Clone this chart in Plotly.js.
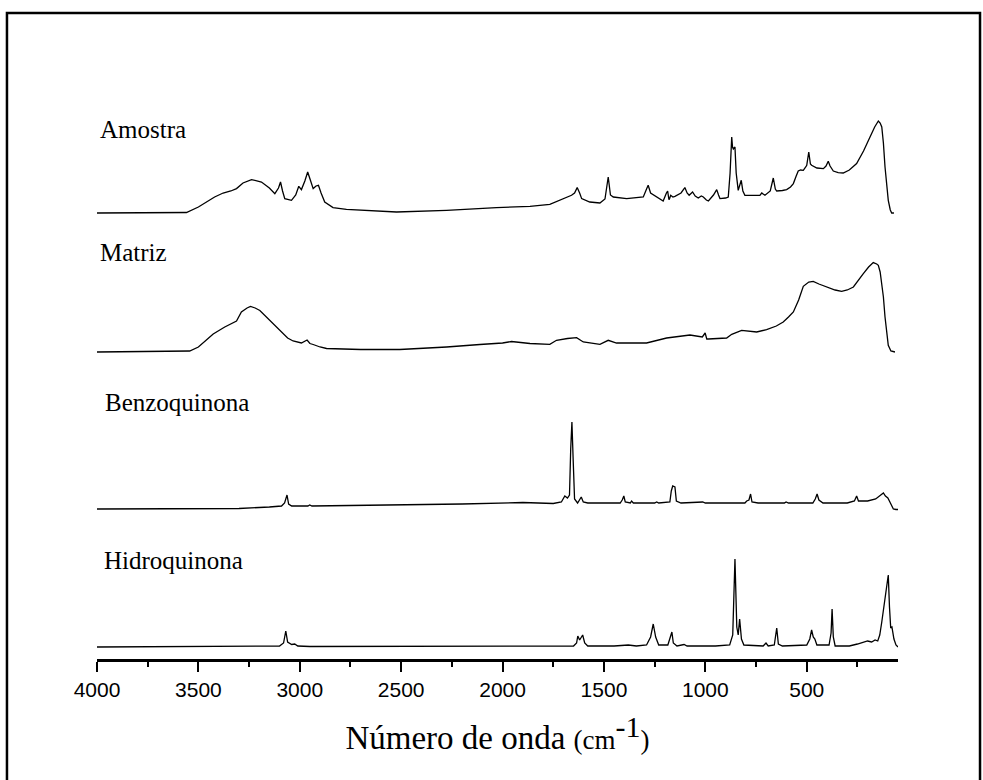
<!DOCTYPE html>
<html>
<head>
<meta charset="utf-8">
<script src="https://cdn.plot.ly/plotly-3.0.1.min.js"></script>
<style>html,body{margin:0;padding:0;background:#fff;}#chart{width:983px;height:780px;}</style>
</head>
<body>
<div id="chart"></div>
<script>
// Series names (labels drawn above each spectrum)
const seriesNames = ["Amostra", "Matriz", "Benzoquinona", "Hidroquinona"];

// Vertical offsets of each spectrum (stacked display, arbitrary units)
const offsets = [446, 307, 150, 12];

// Amostra: wavenumber (cm-1) and relative intensity
const amostraWn = [4000,3700,3559,3500,3460,3420,3378,3340,3312,3280,3238,3200,3189,3150,3123,3105,3095,3085,3074,3041,3020,3005,2992,2975,2961,2948,2934,2920,2908,2895,2877,2836,2770,2523,2276,2030,1865,1767,1701,1660,1645,1632,1620,1610,1570,1520,1495,1479,1468,1454,1388,1306,1290,1282,1270,1240,1208,1192,1186,1180,1178,1171,1160,1150,1120,1101,1090,1080,1063,1050,1035,1020,1010,995,985,960,944,935,928,900,887,878,870,866,862,854,848,838,831,823,815,805,760,731,722,706,680,665,655,648,620,599,580,566,552,542,530,517,505,500,490,482,476,450,418,405,394,385,369,345,320,290,254,220,188,165,147,138,130,122,114,106,98,88,81,70];
const amostraInt = [0,0.3,0.5,6,11,16,20,22,24.4,30,33.4,32,31,25,19.4,25,31,22,14.4,12.7,18,26.7,23.4,32,41,33,24.4,27,27.7,20,11,5.4,3.7,1,2.7,5.4,6.7,8.7,14.4,17.7,20,25.4,20,14.4,11,10,14,36,18,16,14.4,16,24,27.7,20,16,12,20,22,14,13.4,17.7,16,16.7,20,25.4,20,17.7,21,17,15,17,16,13,12,18,23.4,18,14.4,15,16,40,76,66,64,66,40,22.7,28,32.7,22,17.7,17.7,17.7,20,17.7,22,35,24,22,22.5,23.4,26,29.4,37,42,43,42.7,46,47.7,61,49,47.7,45,44.4,47,51.7,47,42,40.4,40,43,49.4,62,76,86,92,90,86,70,46,28,12.7,3,0,0];

// Matriz
const matrizWn = [4000,3800,3600,3543,3500,3427,3370,3312,3288,3260,3243,3220,3197,3150,3099,3060,3033,2992,2964,2950,2934,2900,2868,2700,2507,2400,2276,2112,2000,1956,1900,1865,1767,1734,1680,1635,1602,1520,1479,1438,1290,1191,1076,1043,1015,1001,993,985,895,870,821,747,698,650,616,590,566,540,517,490,468,440,402,360,328,300,270,240,221,195,172,155,147,138,130,122,114,106,98,85,73,65];
const matrizInt = [0,0.3,0.5,1,5,18,25,31,40,44,45.5,44,41.5,32,21,14,11,9,12,8.5,7.5,5,3.5,2.5,2.5,3.5,5,7.5,9,10.5,9.5,8.5,7.7,11.7,13.5,14.4,10,7.7,11.7,9,9,14,17,15.7,15,19,13,13,14,17.7,21.7,20,22.4,26,30,35,40,52,65.7,70,70.7,68,65,62,60.7,62,65,74,78.4,85,89.4,88,86.7,80,68.4,55,35,18,6.7,1,0,0];

// Benzoquinona
const benzoWn = [4000,3500,3300,3150,3090,3075,3063,3055,3040,2960,2951,2940,2500,2200,1900,1750,1710,1693,1680,1670,1664,1658,1652,1645,1630,1612,1602,1580,1420,1410,1402,1395,1370,1364,1355,1250,1240,1230,1175,1168,1161,1150,1143,1120,1013,1000,805,796,785,777,770,740,610,602,590,470,458,449,440,420,300,265,254,245,200,160,135,122,112,100,90,80,73,60,50];
const benzoInt = [0,0,0.5,2,3,6,14,5,3,3,4,3,4,5,6.5,5.5,7,13,11,14,60,87,50,10,6,12,7,6,6,9,13,7,6,8,6,6,7,6,7,18,23,22,8,6,7,6,6,8,9,15,7,6,6,7,6,6,10,15,9,6,6,8,13,8,8,10,14,16,13,11,7,2,0,-0.5,-0.5];

// Hidroquinona
const hidroWn = [4000,3200,3100,3080,3069,3060,3040,3025,3010,2950,2000,1700,1650,1635,1629,1620,1605,1595,1580,1450,1380,1340,1290,1270,1257,1245,1230,1185,1175,1165,1158,1140,1105,1090,950,880,865,854,845,838,831,822,810,715,701,690,660,648,640,620,500,485,476,468,460,450,390,380,375,369,360,290,250,230,200,180,163,150,140,130,120,114,105,98,92,86,80,70,60,50];
const hidroInt = [0,0.5,1,4,16,5,2.5,3,1,0.5,0.5,0.5,1,4,11,7,12,4,1,1,2,1,2,10,23,10,2,2,8,15,4,1,2.5,1,1,2,12,88,20,12,28,8,2,1,4,1,2,19,3,1,2,8,17,10,8,2,2,14,38,10,1,1,3,4,6,5,7,6,12,25,40,49,62,72,40,19,20,8,2,0];

// X axis tick values / labels
const tickValues = [4000,3500,3000,2500,2000,1500,1000,500];
const tickLabels = ["4000","3500","3000","2500","2000","1500","1000","500"];

const wnSets = [amostraWn, matrizWn, benzoWn, hidroWn];
const intSets = [amostraInt, matrizInt, benzoInt, hidroInt];

const traces = wnSets.map((wn, i) => ({
  x: wn,
  y: intSets[i].map(v => v + offsets[i]),
  type: "scatter",
  mode: "lines",
  name: seriesNames[i],
  line: {color: "#000", width: 1.3},
  hoverinfo: "skip"
}));

const labelPos = [
  {xs: 1, y: 530},
  {xs: 1, y: 407},
  {xs: 6, y: 257},
  {xs: 5, y: 99}
];

const annotations = seriesNames.map((n, i) => ({
  text: n,
  xref: "x", yref: "y",
  x: 4000, y: labelPos[i].y,
  xanchor: "left", yanchor: "middle",
  xshift: labelPos[i].xs,
  showarrow: false,
  font: {family: "Liberation Serif, Times New Roman, serif", size: 25, color: "#000"}
}));

const layout = {
  width: 983, height: 780,
  margin: {l: 97, r: 85, t: 13, b: 121, pad: 0},
  paper_bgcolor: "#fff", plot_bgcolor: "#fff",
  showlegend: false,
  xaxis: {
    range: [4000, 50],
    tickvals: tickValues, ticktext: tickLabels,
    ticks: "outside", ticklen: 10, tickwidth: 2, tickcolor: "#000",
    minor: {ticks: "outside", ticklen: 5, tickwidth: 2, tickcolor: "#000", dtick: 250, tick0: 0, showgrid: false},
    showline: true, linewidth: 2.5, linecolor: "#000",
    showgrid: false, zeroline: false,
    tickfont: {family: "Liberation Sans, Arial, sans-serif", size: 21, color: "#000"},
    title: {
      text: "Número de onda <span style='font-size:27px'>(cm<sup><span style='font-size:30px'>-1</span></sup>)</span>",
      font: {family: "Liberation Serif, Times New Roman, serif", size: 33, color: "#000"},
      standoff: 26
    },
    automargin: false,
    fixedrange: true
  },
  yaxis: {
    range: [0, 646], visible: false, showgrid: false, zeroline: false, fixedrange: true
  },
  annotations: annotations,
  shapes: [{
    type: "rect", xref: "paper", yref: "paper",
    x0: -0.1124, x1: 1.1024, y0: -0.2, y1: 1,
    line: {color: "#000", width: 2.5}, fillcolor: "rgba(0,0,0,0)", layer: "above"
  }]
};

Plotly.newPlot("chart", traces, layout, {displayModeBar: false, staticPlot: true});
</script>
</body>
</html>
